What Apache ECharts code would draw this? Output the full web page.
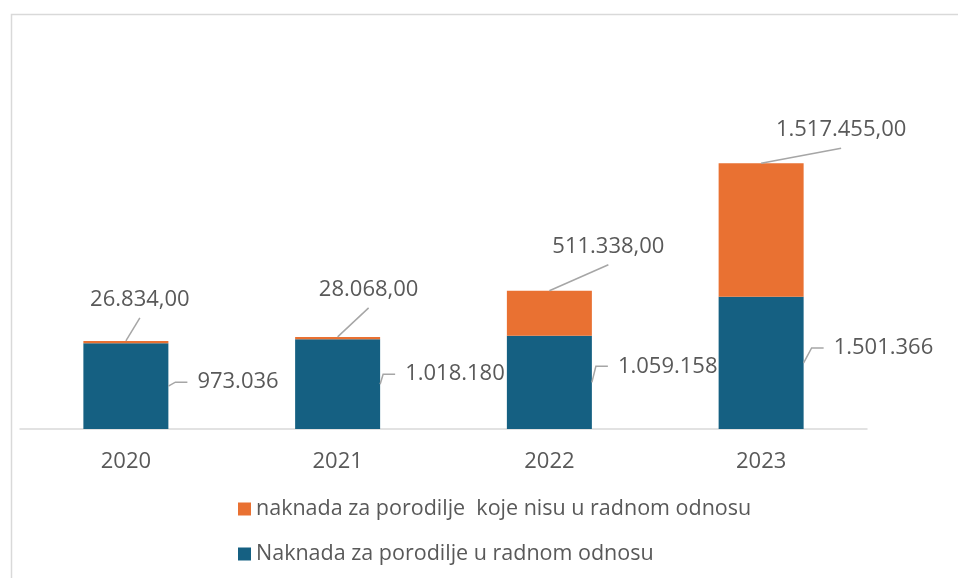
<!DOCTYPE html>
<html>
<head>
<meta charset="utf-8">
<script src="https://cdn.jsdelivr.net/npm/echarts@6/dist/echarts.min.js"></script>
<style>
  html, body { margin: 0; padding: 0; background: #fff; }
  #main { width: 958px; height: 578px; }
</style>
</head>
<body>
<div id="main"></div>
<script>
var years = ['2020', '2021', '2022', '2023'];
var uRadnomOdnosu = [973036, 1018180, 1059158, 1501366];
var nisuURadnomOdnosu = [26834, 28068, 511338, 1517455];

var nameBlue = 'Naknada za porodilje u radnom odnosu';
var nameOrange = 'naknada za porodilje  koje nisu u radnom odnosu';

var chart = echarts.init(document.getElementById('main'));

function fmt(v, dec) {
    var s = String(Math.round(v)).replace(/\B(?=(\d{3})+(?!\d))/g, '.');
    return dec ? s + ',00' : s;
}

// pomaci natpisa u odnosu na vrh / desnu ivicu stubica
var orangeOff = [[14, -41], [31, -47], [59, -44], [80, -33]];
var blueOff = [[29, -4], [25, -10], [26, -16], [30, -15]];

var labelData = [];
for (var i = 0; i < years.length; i++) {
    labelData.push([i, uRadnomOdnosu[i], nisuURadnomOdnosu[i]]);
}

chart.setOption({
    animation: false,
    graphic: [{
        type: 'rect',
        left: 9, top: 12,
        shape: { width: 1000, height: 1000 },
        style: { fill: null, stroke: '#d9d9d9', lineWidth: 1.5 },
        silent: true
    }],
    legend: {
        data: [nameOrange, nameBlue],
        orient: 'vertical',
        left: 233,
        top: 493,
        icon: 'rect',
        itemWidth: 13,
        itemHeight: 13,
        itemGap: 23,
        textStyle: { color: '#595959', fontSize: 21.5, fontFamily: 'Open Sans', lineHeight: 22 }
    },
    grid: { left: 20, right: 91, top: 24, bottom: 149 },
    xAxis: {
        type: 'category',
        data: years,
        axisLine: { lineStyle: { color: '#d9d9d9', width: 1.5 } },
        axisTick: { show: false },
        axisLabel: { color: '#595959', fontSize: 22, fontFamily: 'Open Sans', margin: 22 }
    },
    yAxis: {
        type: 'value',
        min: 0,
        max: 4600000,
        show: false,
        splitLine: { show: false }
    },
    series: [
        {
            name: nameBlue,
            type: 'bar',
            stack: 'ukupno',
            barWidth: 85,
            itemStyle: { color: '#156082' },
            data: uRadnomOdnosu
        },
        {
            name: nameOrange,
            type: 'bar',
            stack: 'ukupno',
            barWidth: 85,
            itemStyle: { color: '#E97132' },
            data: nisuURadnomOdnosu
        },
        {
            type: 'custom',
            silent: true,
            z: 10,
            data: labelData,
            encode: { x: 0, y: 1 },
            renderItem: function (params, api) {
                var idx = api.value(0);
                var b = api.value(1);
                var o = api.value(2);
                var top = api.coord([idx, b + o]);
                var mid = api.coord([idx, b / 2]);
                var right = mid[0] + 85 / 2;
                var oo = orangeOff[idx];
                var bo = blueOff[idx];
                var font = '22px "Open Sans"';
                return {
                    type: 'group',
                    children: [
                        {
                            type: 'polyline',
                            shape: { points: [[top[0], top[1]], [top[0] + oo[0], top[1] + oo[1] + 18]] },
                            style: { stroke: '#a6a6a6', lineWidth: 1.5, fill: null }
                        },
                        {
                            type: 'text',
                            x: top[0] + oo[0], y: top[1] + oo[1],
                            style: { text: fmt(o, true), fill: '#595959', font: font, align: 'center', verticalAlign: 'middle' }
                        },
                        {
                            type: 'polyline',
                            shape: { points: [[right, mid[1]], [right + bo[0] - 22, mid[1] + bo[1]], [right + bo[0] - 10, mid[1] + bo[1]]] },
                            style: { stroke: '#a6a6a6', lineWidth: 1.5, fill: null }
                        },
                        {
                            type: 'text',
                            x: right + bo[0], y: mid[1] + bo[1],
                            style: { text: fmt(b, false), fill: '#595959', font: font, align: 'left', verticalAlign: 'middle' }
                        }
                    ]
                };
            }
        }
    ]
});
</script>
</body>
</html>
